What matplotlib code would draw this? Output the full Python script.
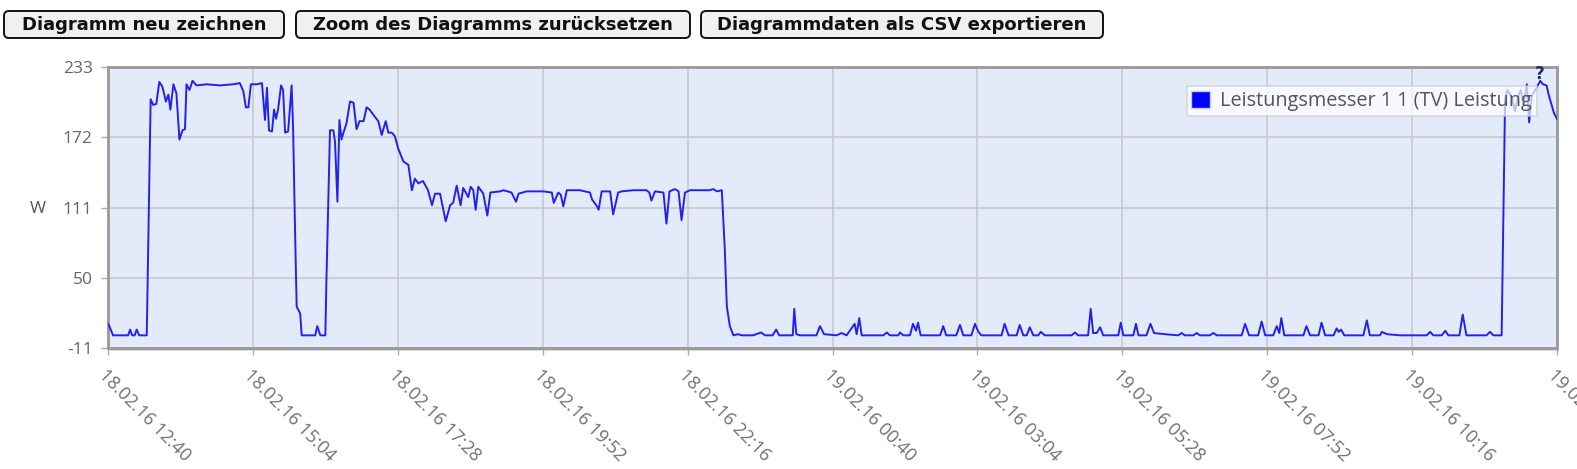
import datetime as dt
import matplotlib
matplotlib.use("Agg")
import matplotlib.pyplot as plt
from matplotlib.patches import FancyBboxPatch, Patch, Rectangle
from matplotlib.transforms import IdentityTransform

# data: minutes after 18.02.16 12:40 and power in W
start = dt.datetime(2016, 2, 18, 12, 40)
minutes = [
    0, 1.3, 5, 20, 22, 24, 26.5, 28.5, 31, 38.5, 42.4, 45, 48, 51, 54, 57.6, 60, 62, 65, 68,
    71, 74, 76.5, 78, 81, 84, 88, 98, 111, 124.5, 131, 134.5, 137, 139.5, 142, 148, 153, 156,
    158, 160, 163, 165, 167, 169, 172, 174, 176, 179, 182.5, 184, 186, 187.5, 191, 192.5, 206,
    208, 211, 216, 217, 220.6, 224, 225.6, 228, 230, 232, 234, 237, 240.5, 244, 247, 250, 254,
    257, 260, 265, 268.6, 272, 276, 278.6, 282, 285, 288.5, 293.5, 298.5, 302, 305, 308.4,
    313, 318, 322, 325, 330, 335.6, 340, 343, 346.5, 350.4, 353, 358, 360.4, 363, 365.4, 368,
    373, 377, 380, 389.6, 393, 401, 405.5, 408, 416, 432.6, 441, 443, 447.5, 450, 452.5, 456,
    469, 479, 481, 486, 487.6, 490.6, 499, 502, 507, 510.5, 522, 535, 538, 540, 543.6, 552,
    555, 558, 563.5, 567, 570, 573.4, 578.4, 588, 598, 601.6, 605, 610, 613, 615, 618, 621.5,
    626, 630,
    641, 649, 653, 660.5, 664, 667, 680.5, 682, 684, 687.7, 704, 707.6, 711.6, 724, 729, 734,
    742, 744, 746.6, 749, 770.5, 774, 777, 785.4, 787, 790.4, 797, 800, 803, 805, 807.6, 827,
    830, 833, 843, 846.7, 850, 858, 861.6, 865, 868, 888, 891, 895, 903, 906, 909.6, 913, 916,
    919.6, 924.5, 927, 931, 957.7, 961, 964, 974, 976.6, 979, 982.6, 986, 989, 1004, 1006.5,
    1009, 1019, 1021.6, 1024,
    1032, 1036, 1039.5, 1050, 1063.6, 1067, 1070, 1078.6, 1082, 1085, 1095, 1098.5, 1102,
    1126.6, 1130, 1134, 1143, 1146.5, 1150, 1158, 1161.5, 1164, 1166, 1169, 1188, 1191, 1194.6,
    1203, 1206, 1209.6, 1218, 1221, 1223, 1225.4, 1228.6, 1247.6, 1251, 1254, 1264, 1266, 1271,
    1284, 1310.5, 1314, 1317, 1325.4, 1329, 1332, 1343, 1346.3, 1350, 1370, 1373.4, 1376.8,
    1385, 1388.4, 1390.7, 1395, 1398.3, 1401.7, 1404, 1406.6, 1410, 1412.3, 1415, 1418.4,
    1423.4, 1426, 1429.6, 1432, 1437, 1440,
]
watts = [
    10, 8, 0, 0, 5, 0, 0, 5, 0, 0, 205, 200, 201, 220, 216, 203, 209, 196, 218, 210,
    170, 178, 179, 218, 213, 221, 217, 218, 217, 218, 219, 212, 198, 198, 218, 218, 219, 187,
    215, 178, 177, 196, 188, 196, 217, 213, 176, 177, 217, 178, 86, 25, 19, 0, 0,
    8, 0, 0, 45, 178, 178, 168, 116, 187, 170, 176, 184, 203, 202, 179, 186, 186,
    198, 196, 190, 186, 174, 186, 176, 176, 173, 162, 151, 148, 126, 136, 132,
    134, 126, 113, 123, 123, 99, 113, 115, 130, 113, 128, 120, 129, 126, 109, 129,
    123, 104, 124, 125, 126, 124, 116, 123, 125, 125, 124, 115, 124, 122, 112, 126,
    126, 124, 118, 112, 109, 125, 125, 105, 124, 125, 126, 126, 124, 117, 125, 124,
    97, 125, 127, 125, 100, 124, 126, 126, 126, 127, 125, 126, 74, 25, 8, 0,
    1, 0,
    0, 2.5, 0, 0, 5, 0, 0, 23, 1, 0, 0, 8, 1, 0, 2, 0,
    10, 1, 15, 0, 0, 2.5, 0, 0, 2.5, 0, 0, 10, 4, 11, 0, 0,
    8, 0, 0, 9, 0, 0, 10, 3, 0, 0, 10, 0, 0, 9, 0, 0, 7,
    0, 0, 3, 0, 0, 2.5, 0, 0, 23, 2, 2, 7, 0, 0, 11,
    0, 0, 10, 0,
    0, 10, 2, 1, 0, 2, 0, 0, 2, 0, 0, 2, 0,
    0, 10, 0, 0, 12, 0, 0, 8, 2, 15, 0, 0, 8, 0,
    0, 11, 0, 0, 6, 3, 5, 0, 0, 13, 0, 0, 3, 1,
    0, 0, 3, 0, 0, 4, 0, 0, 18, 0, 0, 3, 0,
    0, 205, 213, 207, 195, 208, 213, 200, 218, 185, 208, 213,
    221, 218, 217, 208, 193, 188,
]

tick_labels = [
    "18.02.16 12:40", "18.02.16 15:04", "18.02.16 17:28", "18.02.16 19:52",
    "18.02.16 22:16", "19.02.16 00:40", "19.02.16 03:04", "19.02.16 05:28",
    "19.02.16 07:52", "19.02.16 10:16", "19.02.16 12:40",
]
y_ticks = [-11, 50, 111, 172, 233]
series_name = "Leistungsmesser 1 1 (TV) Leistung"
buttons = ["Diagramm neu zeichnen", "Zoom des Diagramms zurücksetzen",
           "Diagrammdaten als CSV exportieren"]

W, H = 1577, 469
fig = plt.figure(figsize=(W / 100, H / 100), dpi=100)
plt.rcParams['font.family'] = ['Open Sans', 'DejaVu Sans']

# plot area in pixels: x 108..1557, y 67..348
left, right, top, bottom = 108, 1557, 67, 348
ax = fig.add_axes([left / W, 1 - bottom / H, (right - left) / W, (bottom - top) / H])
ax.set_zorder(2)

# drop shadow behind the frame
fig.patches.append(Rectangle((left + 2, H - bottom - 3), right - left, bottom - top,
                             transform=IdentityTransform(), facecolor='#d8d8d8',
                             edgecolor='none', zorder=1))

times = [start + dt.timedelta(minutes=m) for m in minutes]
ax.plot(times, watts, color='#2222ee', lw=1.4, zorder=3)

xt = [dt.datetime.strptime(s, "%d.%m.%y %H:%M") for s in tick_labels]
ax.set_xlim(xt[0], xt[-1])
ax.set_ylim(y_ticks[0], y_ticks[-1])
ax.set_xticks(xt)
ax.set_xticklabels(tick_labels, rotation=-45, ha='left', va='top',
                   rotation_mode='anchor', fontsize=13, color='#707070')
ax.set_yticks(y_ticks)
ax.set_yticklabels([str(v) for v in y_ticks], fontsize=12.5, color='#666666')
ax.tick_params(axis='both', length=5, width=1, color='#aaaaaa')
ax.tick_params(axis='x', pad=8)
ax.tick_params(axis='y', pad=6)

ax.set_facecolor('#e3ebfb')
ax.grid(True, color='#c9c9c9', lw=1.2, zorder=1)
ax.set_axisbelow(True)
for sp in ax.spines.values():
    sp.set_color('#999999')
    sp.set_linewidth(2)

fig.text(38 / W, 1 - 209 / H, "W", fontsize=12.5, color='#555555', ha='center', va='center')

leg = ax.legend(handles=[Patch(facecolor='#0000ff', edgecolor='#cccccc', lw=1)],
                labels=[series_name], loc='upper right',
                bbox_to_anchor=((1537 - left) / (right - left), 1 - (86 - top) / (bottom - top)),
                fontsize=14.3, frameon=True, fancybox=False, framealpha=0.7,
                edgecolor='#cccccc', handlelength=0.95, handleheight=0.95,
                handletextpad=0.5, borderpad=0.25, borderaxespad=0)
leg.get_frame().set_linewidth(1.2)
for t in leg.get_texts():
    t.set_color('#555555')
leg.set_zorder(5)

fig.text(1540 / W, 1 - 74 / H, "?", fontsize=12, fontweight='bold', color='#1b2d6b',
         ha='center', va='center', family='DejaVu Sans', zorder=6)

# buttons above the chart
button_x = [(3, 285), (295, 691), (700, 1104)]
for (x0, x1), label in zip(button_x, buttons):
    fig.patches.append(FancyBboxPatch((x0 + 1, H - 38), x1 - x0 - 2, 27,
                                      boxstyle="round,pad=0,rounding_size=5",
                                      transform=IdentityTransform(), facecolor='#f0f0f0',
                                      edgecolor='#111111', lw=1.4))
    fig.text((x0 + x1) / 2 / W, 1 - 25 / H, label, fontsize=13, fontweight='bold',
             color='#111111', ha='center', va='center', family='DejaVu Sans')

fig.savefig("out.png", dpi=100)
